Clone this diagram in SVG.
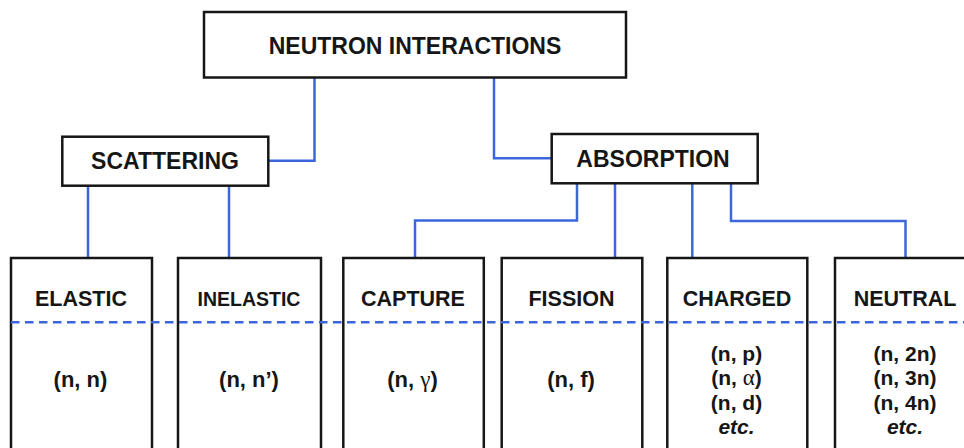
<svg xmlns="http://www.w3.org/2000/svg" width="964" height="448" viewBox="0 0 964 448">
  <style>
    .box { fill: #ffffff; stroke: #161616; stroke-width: 2.5; }
    .conn { fill: none; stroke: #3d66dd; stroke-width: 2.5; }
    .dash { fill: none; stroke: #3d66dd; stroke-width: 2.6; stroke-dasharray: 8.5 5.5; }
    text { font-family: "Liberation Sans", Arial, sans-serif; font-weight: bold; fill: #161616; text-anchor: middle; }
    .head { font-size: 23px; }
    .lab { font-size: 21.5px; }
    .lab2 { font-size: 19.5px; }
    .row { font-size: 21px; }
    .row1 { font-size: 22px; }
    .it { font-style: italic; }
    .sym { font-family: "Liberation Serif", "Times New Roman", serif; font-weight: normal; font-size: 23px; }
  </style>
  <rect x="0" y="0" width="964" height="448" fill="#ffffff"/>

  <g id="connectors">
    <path class="conn" d="M314.5,77.5 V160.7 H268.3"/>
    <path class="conn" d="M494,77.5 V158.3 H551.7"/>
    <path class="conn" d="M88,185.7 V258"/>
    <path class="conn" d="M229,185.7 V258"/>
    <path class="conn" d="M577,183.3 V220.5 H415 V258"/>
    <path class="conn" d="M615,183.3 V258"/>
    <path class="conn" d="M692.3,183.3 V258"/>
    <path class="conn" d="M731,183.3 V221 H905.5 V258"/>
  </g>

  <g id="neutron-interactions">
    <rect class="box" x="204" y="12" width="422" height="65.5"/>
    <text class="head" x="415" y="54">NEUTRON INTERACTIONS</text>
  </g>

  <g id="scattering">
    <rect class="box" x="62.3" y="136.7" width="206" height="49"/>
    <text class="head" x="165" y="169">SCATTERING</text>
  </g>

  <g id="absorption">
    <rect class="box" x="551.7" y="134" width="206" height="49.3"/>
    <text class="head" x="653" y="167">ABSORPTION</text>
  </g>

  <g id="elastic">
    <rect class="box" x="11" y="258" width="141" height="215"/>
    <text class="lab" x="81" y="306">ELASTIC</text>
    <text class="row1" x="80.5" y="387">(n, n)</text>
  </g>

  <g id="inelastic">
    <rect class="box" x="178" y="258" width="143" height="215"/>
    <text class="lab2" x="249" y="306">INELASTIC</text>
    <text class="row1" x="249" y="387">(n, n’)</text>
  </g>

  <g id="capture">
    <rect class="box" x="343.3" y="258" width="140.5" height="215"/>
    <text class="lab" x="413" y="306">CAPTURE</text>
    <text class="row1" x="412.5" y="387">(n, <tspan class="sym">γ</tspan>)</text>
  </g>

  <g id="fission">
    <rect class="box" x="501.7" y="258" width="140.6" height="215"/>
    <text class="lab" x="571.5" y="306">FISSION</text>
    <text class="row1" x="571" y="387">(n, f)</text>
  </g>

  <g id="charged">
    <rect class="box" x="667.3" y="258" width="140" height="215"/>
    <text class="lab" x="737" y="306">CHARGED</text>
    <text class="row" x="736.5" y="360.5">(n, p)</text>
    <text class="row" x="736.5" y="385">(n, <tspan class="sym">α</tspan>)</text>
    <text class="row" x="736.5" y="409.5">(n, d)</text>
    <text class="row it" x="736.5" y="433.5">etc.</text>
  </g>

  <g id="neutral">
    <rect class="box" x="835" y="258" width="141" height="215"/>
    <text class="lab" x="905" y="306">NEUTRAL</text>
    <text class="row" x="905" y="360.5">(n, 2n)</text>
    <text class="row" x="905" y="385">(n, 3n)</text>
    <text class="row" x="905" y="409.5">(n, 4n)</text>
    <text class="row it" x="905" y="433.5">etc.</text>
  </g>

  <g id="divider">
    <line class="dash" x1="11" y1="322.3" x2="964" y2="322.3"/>
  </g>
</svg>
